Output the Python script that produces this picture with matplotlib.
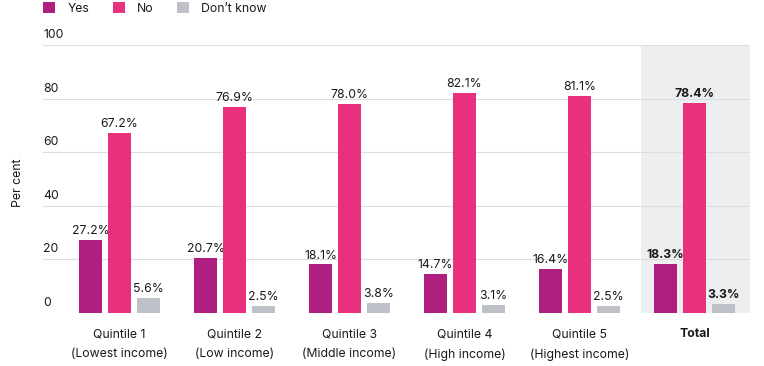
import numpy as np
import matplotlib.pyplot as plt
from matplotlib.patches import Patch
from matplotlib.transforms import blended_transform_factory

plt.rcParams["font.family"] = ["Inter", "DejaVu Sans"]

groups = ["Quintile 1\n(Lowest income)", "Quintile 2\n(Low income)",
          "Quintile 3\n(Middle income)", "Quintile 4\n(High income)",
          "Quintile 5\n(Highest income)", "Total"]
series = ["Yes", "No", "Don\u2019t know"]
yes = [27.2, 20.7, 18.1, 14.7, 16.4, 18.3]
no = [67.2, 76.9, 78.0, 82.1, 81.1, 78.4]
dont_know = [5.6, 2.5, 3.8, 3.1, 2.5, 3.3]
y_ticks = [0, 20, 40, 60, 80, 100]

colors = ["#AE1F80", "#E8307F", "#BEC1C8"]
text_color = "#1a1a1a"
FS = 8.8


def main():
    fig = plt.figure(figsize=(7.64, 3.66), dpi=100)
    ax = fig.add_axes([0.0563, 0.1448, 0.9254, 0.7322])

    x = np.arange(len(groups))
    width = 0.2
    step = 0.252

    # shaded background behind the total group
    ax.axvspan(x[-1] - 0.465, x[-1] + 0.6, color="#EDEEF0", zorder=0, lw=0)

    for yv in y_ticks[1:]:
        ax.axhline(yv, color="#DCDDE0", lw=0.8, zorder=1)
    ax.axhline(-0.6, color="#BEC1C8", lw=2.4, zorder=2)

    for i, vals in enumerate([yes, no, dont_know]):
        pos = x + (i - 1) * step
        ax.bar(pos, vals, width, color=colors[i], zorder=3)
        for j, (p, v) in enumerate(zip(pos, vals)):
            ax.text(p, v + 1.1, f"{v:.1f}%", ha="center", va="bottom",
                    fontsize=FS, color=text_color,
                    fontweight="bold" if j == len(groups) - 1 else "normal")

    ax.set_xlim(-0.665, 5.483)
    ax.set_ylim(0, 100)
    for s in ax.spines.values():
        s.set_visible(False)
    ax.set_yticks([])
    ax.set_xticks(x)
    ax.set_xticklabels(groups, fontsize=FS, color=text_color, linespacing=1.85)
    ax.get_xticklabels()[-1].set_fontweight("bold")
    ax.tick_params(axis="x", length=0, pad=11)
    for lbl in ax.get_xticklabels():
        lbl.set_verticalalignment("top")

    trans = blended_transform_factory(ax.transAxes, ax.transData)
    for t in y_ticks:
        ax.text(0, t + 1.5, str(t), transform=trans, ha="left", va="bottom",
                fontsize=FS, color=text_color)

    fig.text(0.024, 0.5, "Per cent", rotation=90, ha="center", va="center",
             fontsize=FS, color=text_color)

    handles = [Patch(facecolor=c, edgecolor="none", label=s)
               for c, s in zip(colors, series)]
    fig.legend(handles=handles, loc="upper left", bbox_to_anchor=(0.042, 1.025),
               ncol=3, frameon=False, fontsize=FS, handlelength=1.0,
               handleheight=1.0, handletextpad=1.0, columnspacing=1.9,
               labelcolor=text_color)

    fig.savefig("out.png", dpi=100)
    plt.close(fig)


if __name__ == "__main__":
    main()
